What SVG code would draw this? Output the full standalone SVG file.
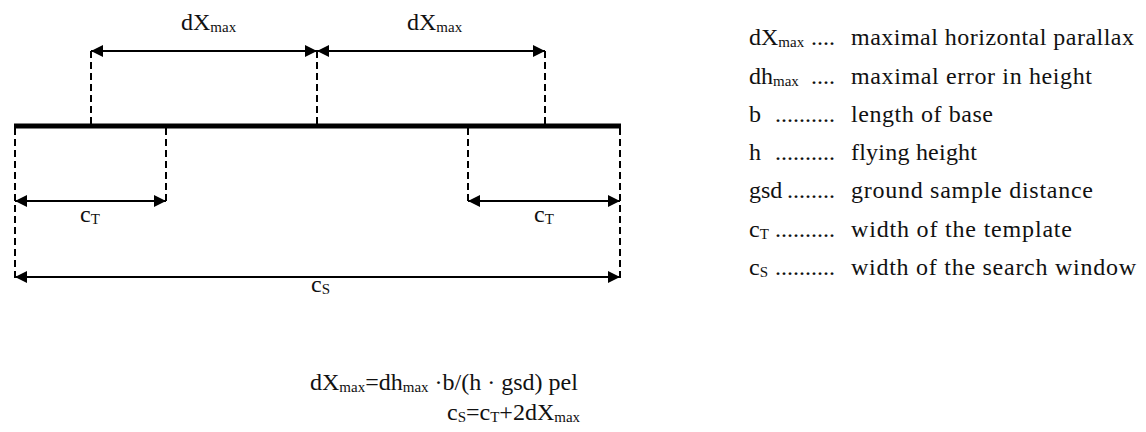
<svg xmlns="http://www.w3.org/2000/svg" width="1146" height="432" viewBox="0 0 1146 432">
<style>
  text { font-family: "Liberation Serif", "Times New Roman", serif; font-size: 24px; fill: #111; }
  .sub { font-size: 15px; }
  .dash { stroke: #000; stroke-width: 2; stroke-dasharray: 7 4; fill: none; }
  .dim { stroke: #000; stroke-width: 2; fill: none; marker-start: url(#ah); marker-end: url(#ah); }
  .base { stroke: #000; stroke-width: 5; }
</style>
<defs>
  <marker id="ah" viewBox="0 0 10 10" refX="10" refY="5" markerWidth="12" markerHeight="12" markerUnits="userSpaceOnUse" orient="auto-start-reverse">
    <path d="M0,0 L10,5 L0,10 z" fill="#000"/>
  </marker>
</defs>
<rect width="1146" height="432" fill="#fff"/>

<g id="baseline">
  <line class="base" x1="14" y1="126" x2="621" y2="126"/>
</g>

<g id="connectors">
  <line class="dash" x1="91" y1="51" x2="91" y2="124"/>
  <line class="dash" x1="317" y1="51" x2="317" y2="124"/>
  <line class="dash" x1="545" y1="51" x2="545" y2="124"/>
  <line class="dash" x1="15" y1="128" x2="15" y2="281"/>
  <line class="dash" x1="166" y1="128" x2="166" y2="204"/>
  <line class="dash" x1="468" y1="128" x2="468" y2="204"/>
  <line class="dash" x1="620" y1="128" x2="620" y2="281"/>
  <line class="dim" x1="91" y1="51" x2="317" y2="51"/>
  <line class="dim" x1="317" y1="51" x2="545" y2="51"/>
  <line class="dim" x1="15" y1="201" x2="166" y2="201"/>
  <line class="dim" x1="468" y1="201" x2="620" y2="201"/>
  <line class="dim" x1="15" y1="277" x2="620" y2="277"/>
</g>

<g id="label-dx1"><text x="181" y="30">dX<tspan class="sub" dy="2">max</tspan></text></g>
<g id="label-dx2"><text x="407" y="30">dX<tspan class="sub" dy="2">max</tspan></text></g>
<g id="label-ct1"><text x="80" y="222">c<tspan class="sub" dy="2">T</tspan></text></g>
<g id="label-ct2"><text x="534" y="222">c<tspan class="sub" dy="2">T</tspan></text></g>
<g id="label-cs"><text x="311" y="292">c<tspan class="sub" dy="2">S</tspan></text></g>

<g id="legend">
  <g id="leg-dx"><text x="749" y="45">dX<tspan class="sub" dy="2">max</tspan></text><text x="835" y="45" text-anchor="end">....</text><text x="851" y="45" textLength="283" lengthAdjust="spacing">maximal horizontal parallax</text></g>
  <g id="leg-dh"><text x="749" y="84">dh<tspan class="sub" dy="2">max</tspan></text><text x="835" y="84" text-anchor="end">....</text><text x="851" y="84" textLength="241" lengthAdjust="spacing">maximal error in height</text></g>
  <g id="leg-b"><text x="749" y="122">b</text><text x="835" y="122" text-anchor="end">..........</text><text x="851" y="122" textLength="142" lengthAdjust="spacing">length of base</text></g>
  <g id="leg-h"><text x="749" y="160">h</text><text x="835" y="160" text-anchor="end">..........</text><text x="851" y="160" textLength="126" lengthAdjust="spacing">flying height</text></g>
  <g id="leg-gsd"><text x="749" y="198">gsd</text><text x="835" y="198" text-anchor="end">........</text><text x="851" y="198" textLength="242" lengthAdjust="spacing">ground sample distance</text></g>
  <g id="leg-ct"><text x="749" y="237">c<tspan class="sub" dy="2">T</tspan></text><text x="835" y="237" text-anchor="end">..........</text><text x="851" y="237" textLength="221" lengthAdjust="spacing">width of the template</text></g>
  <g id="leg-cs"><text x="749" y="275">c<tspan class="sub" dy="2">S</tspan></text><text x="835" y="275" text-anchor="end">..........</text><text x="851" y="275" textLength="285" lengthAdjust="spacing">width of the search window</text></g>
</g>

<g id="formula1"><text x="310" y="390">dX<tspan class="sub" dy="2">max</tspan><tspan dy="-2">=dh</tspan><tspan class="sub" dy="2">max</tspan><tspan dy="-2"> ·b/(h · gsd) pel</tspan></text></g>
<g id="formula2"><text x="447" y="420">c<tspan class="sub" dy="2">S</tspan><tspan dy="-2">=c</tspan><tspan class="sub" dy="2">T</tspan><tspan dy="-2">+2dX</tspan><tspan class="sub" dy="2">max</tspan></text></g>
</svg>
